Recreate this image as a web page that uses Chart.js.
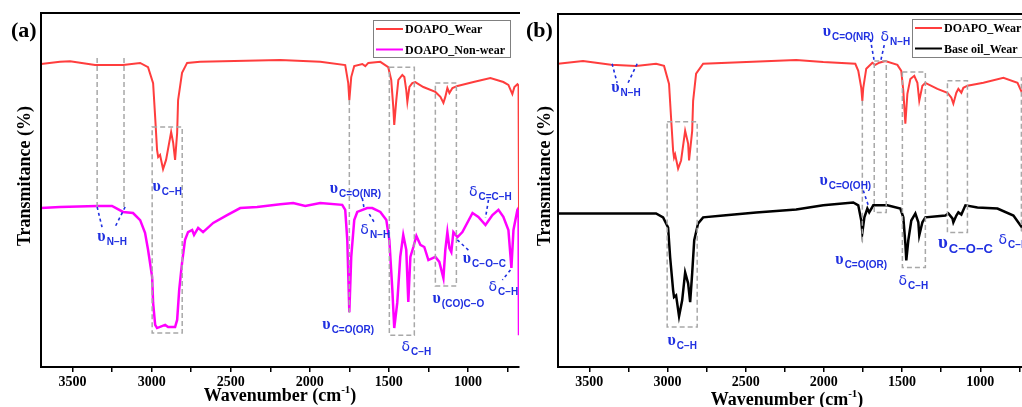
<!DOCTYPE html>
<html>
<head>
<meta charset="utf-8">
<script src="https://cdn.jsdelivr.net/npm/chart.js@4.4.1/dist/chart.umd.min.js"></script>
<style>
  html, body { margin: 0; padding: 0; background: #fff; overflow: hidden; }
  body { width: 1022px; height: 407px; position: relative; }
  #chartA { position: absolute; left: 0; top: 0; }
  #chartB { position: absolute; left: 520px; top: 0; }
</style>
</head>
<body>
<canvas id="chartA" width="520" height="407"></canvas>
<canvas id="chartB" width="540" height="407"></canvas>
<script>
// wavenumbers (cm-1) and transmittance (arbitrary %, offset per trace)
const wearA_wn = [3700,3580,3516,3358,3181,3073,3023,2991,2978,2966,2959,2947,2928,2909,2877,2864,2852,2839,2833,2808,2776,2694,2187,1934,1776,1757,1750,1738,1719,1668,1649,1630,1554,1504,1485,1472,1466,1453,1440,1415,1402,1390,1383,1370,1352,1333,1282,1206,1174,1155,1143,1130,1117,1098,1066,965,858,776,744,719,706,687,680,677];
const wearA_t  = [85.6,86.2,86.4,85.3,85.3,85.9,84.7,80.2,70.6,61.3,59.3,59.9,55.9,58.5,66.4,63.3,58.5,66.1,75.4,83.1,85.9,86.2,86.7,86.2,85.3,80.2,75.4,81.9,85.0,85.6,85.0,85.9,86.2,84.7,81.1,73.4,68.4,75.4,81.1,82.5,81.9,78.2,74.9,79.1,80.2,80.5,79.1,77.7,76.3,74.6,76.3,78.8,77.4,78.8,79.4,80.5,81.6,80.5,79.7,77.1,79.1,79.9,79.5,44.4];

const nonwearA_wn = [3700,3580,3346,3251,3181,3118,3073,3042,3023,2997,2991,2978,2966,2915,2896,2852,2839,2826,2808,2789,2770,2744,2732,2706,2675,2611,2523,2440,2333,2187,2105,2029,1934,1795,1776,1763,1750,1738,1719,1700,1637,1605,1554,1516,1497,1478,1466,1447,1428,1409,1390,1377,1364,1345,1326,1301,1276,1250,1206,1181,1155,1143,1130,1117,1105,1092,1066,1035,971,934,889,845,807,776,744,725,712,687,680,677];
const nonwearA_t  = [44.9,45.2,45.5,45.5,43.8,43.5,41.5,37.9,33.1,25.4,18.1,11.9,11.0,11.9,11.3,11.3,13.3,21.8,29.4,35.9,38.1,38.7,37.3,39.3,38.1,40.7,42.9,44.9,45.2,46.0,46.3,45.5,46.3,45.8,44.4,35.9,15.5,31.1,41.5,43.8,44.9,44.9,43.8,41.5,35.9,21.8,11.0,18.1,31.1,37.3,33.1,18.4,31.1,33.9,37.0,34.5,33.9,30.2,31.1,29.7,25.1,33.1,38.1,33.6,32.5,38.1,36.7,38.1,43.5,42.4,40.1,42.9,44.4,42.4,38.7,28.0,38.7,44.4,44.9,9.0];

const wearB_wn = [3700,3540,3361,3201,3073,3022,2990,2977,2964,2958,2951,2932,2913,2887,2868,2862,2842,2836,2817,2772,2177,2004,1799,1780,1761,1754,1748,1729,1690,1671,1646,1607,1530,1505,1492,1479,1466,1447,1422,1402,1390,1370,1351,1274,1210,1185,1172,1153,1140,1121,1108,1082,980,852,762,730,722];
const wearB_t  = [85.9,86.7,85.6,85.3,85.9,85.3,80.2,70.6,61.3,59.3,60.2,56.2,58.5,66.9,63.3,58.5,66.9,75.4,83.1,85.9,87.0,86.4,85.9,83.9,79.1,75.4,79.1,84.5,86.2,85.6,86.2,86.7,85.6,83.9,78.2,68.9,77.4,81.6,82.5,80.5,75.4,79.7,80.5,78.8,77.7,76.3,74.6,77.7,78.8,77.7,79.1,79.7,80.5,81.9,80.5,77.4,76.0];

const baseB_wn = [3700,3500,3284,3073,3028,2996,2983,2964,2958,2945,2926,2906,2887,2868,2855,2842,2829,2804,2772,2644,2433,2177,2004,1812,1780,1761,1754,1741,1722,1710,1684,1594,1511,1492,1479,1473,1460,1441,1415,1396,1390,1370,1351,1274,1223,1204,1178,1172,1153,1140,1121,1095,1018,890,788,730,722];
const baseB_t  = [43.5,43.5,43.5,43.5,42.4,39.5,31.1,21.8,19.8,20.3,14.4,18.9,26.8,23.7,18.4,26.6,35.9,40.7,42.4,42.9,43.8,44.6,45.8,46.6,45.8,41.5,38.1,42.4,44.9,43.8,45.8,45.8,44.9,42.4,35.0,30.2,35.9,41.5,43.5,41.0,37.3,41.0,42.4,42.7,42.9,43.5,42.1,41.0,42.9,43.8,43.2,45.8,45.2,44.9,42.9,39.3,37.5];

const tickMarks = [3500,3250,3000,2750,2500,2250,2000,1750,1500,1250,1000,750];
const tickLabels = ['3500','','3000','','2500','','2000','','1500','','1000',''];

// band annotations: [wn, tTop, tBottom] lines, [wnL, wnR, tTop, tBottom] boxes,
// [wn1, t1, wn2, t2] leaders, [symbol, subscript, wn, t, big] tags
const annoA = {
  vlines: [[3345, 87.3, 45.2], [3175, 87.3, 45.2], [1750, 75.4, 15.3]],
  boxes: [[2997, 2807, 67.8, 9.6], [1497, 1339, 84.7, 9.0], [1206, 1073, 80.2, 22.9]],
  leaders: [[3345,45.2,3314,39.5],[3168,45.2,3232,39.5],[1668,47.7,1655,44.4],[1624,43.2,1586,40.4],[1067,35.9,984,32.5],[731,27.4,782,24.6],[870,47.2,889,42.1]],
  tags: [['υ','C−H',2902,50.6],['υ','C=O(NR)',1712,50.0],['δ','N−H',1586,38.4],['υ','N−H',3250,36.4],['υ','C=O(OR)',1757,11.6],['δ','C−H',1326,5.4],['υ','(CO)C−O',1060,18.9],['υ','C−O−C',896,30.2],['δ','C−H',776,22.3],['δ','C=C−H',858,49.2]]
};
const annoB = {
  vlines: [[1754, 75.4, 35.3]],
  boxes: [[3002,2810,69.5,11.3],[1678,1601,86.7,43.8],[1498,1351,83.6,28.2],[1210,1082,81.1,38.1],[737,680,81.9,38.7]],
  leaders: [[3354,85.9,3322,80.5],[3194,85.9,3252,80.5],[1703,92.9,1678,86.7],[1614,91.2,1639,86.2],[1748,50.0,1716,45.8]],
  tags: [['υ','N−H',3265,78.8],['υ','C=O(NR)',1844,94.6],['δ','N−H',1543,93.2],['υ','C−H',2906,7.1],['υ','C=O(OH)',1863,52.3],['υ','C=O(OR)',1761,29.9],['δ','C−H',1428,24.0],['υ','C−O−C',1095,34.7,true],['δ','C−H',788,35.6]]
};

const BLUE = '#1f2fe0';
const SERIF = '"Liberation Serif", "Times New Roman", serif';

function pts(wn, t) {
  return wn.map((x, i) => ({ x: x, y: t[i] }));
}

function drawTag(ctx, xs, ys, tag) {
  const [sym, sub, wn, t, big] = tag;
  const x = xs.getPixelForValue(wn), y = ys.getPixelForValue(t);
  const symFont = sym === 'υ' ? `bold ${big ? 19 : 16}px ${SERIF}` : `${big ? 17 : 14}px "DejaVu Sans"`;
  const subFont = `bold ${big ? 13 : 10}px "Liberation Sans", Arial, sans-serif`;
  ctx.font = symFont;
  const w1 = ctx.measureText(sym).width;
  ctx.font = subFont;
  const w2 = ctx.measureText(sub).width;
  const x0 = x - (w1 + w2 + 1) / 2;
  ctx.fillStyle = BLUE;
  ctx.textAlign = 'left';
  ctx.textBaseline = 'alphabetic';
  ctx.font = symFont;
  ctx.fillText(sym, x0, y + 3);
  ctx.font = subFont;
  ctx.fillText(sub, x0 + w1 + 1, y + (big ? 8 : 7));
}

function makeDecor(opt) {
  return {
    id: 'decor',
    afterDatasetsDraw(chart) {
      const ctx = chart.ctx, xs = chart.scales.x, ys = chart.scales.y, a = chart.chartArea;
      const an = opt.anno;
      ctx.save();
      // gray dashed band boxes
      ctx.strokeStyle = '#a8a8a8';
      ctx.lineWidth = 1.5;
      ctx.setLineDash([5, 3]);
      an.vlines.forEach(v => {
        const x = xs.getPixelForValue(v[0]);
        ctx.beginPath();
        ctx.moveTo(x, ys.getPixelForValue(v[1]));
        ctx.lineTo(x, ys.getPixelForValue(v[2]));
        ctx.stroke();
      });
      an.boxes.forEach(b => {
        const x1 = xs.getPixelForValue(b[0]), x2 = xs.getPixelForValue(b[1]);
        const y1 = ys.getPixelForValue(b[2]), y2 = ys.getPixelForValue(b[3]);
        ctx.strokeRect(x1, y1, x2 - x1, y2 - y1);
      });
      // blue leaders
      ctx.strokeStyle = BLUE;
      ctx.lineWidth = 1.6;
      ctx.setLineDash([3, 3]);
      an.leaders.forEach(l => {
        ctx.beginPath();
        ctx.moveTo(xs.getPixelForValue(l[0]), ys.getPixelForValue(l[1]));
        ctx.lineTo(xs.getPixelForValue(l[2]), ys.getPixelForValue(l[3]));
        ctx.stroke();
      });
      ctx.setLineDash([]);
      an.tags.forEach(t => drawTag(ctx, xs, ys, t));

      // frame: left and top
      ctx.strokeStyle = '#000';
      ctx.lineWidth = 2;
      ctx.beginPath();
      ctx.moveTo(a.left, a.bottom);
      ctx.lineTo(a.left, a.top);
      ctx.lineTo(a.right + 30, a.top);
      ctx.stroke();

      // legend
      const lg = opt.legend;
      ctx.fillStyle = '#fff';
      ctx.fillRect(lg.x, lg.y, lg.w, lg.h);
      ctx.strokeStyle = '#808080';
      ctx.lineWidth = 1;
      ctx.strokeRect(lg.x + 0.5, lg.y + 0.5, lg.w, lg.h);
      ctx.font = `bold 12px ${SERIF}`;
      ctx.textBaseline = 'middle';
      ctx.textAlign = 'left';
      chart.data.datasets.forEach((ds, i) => {
        const yy = lg.y + 9 + i * 20.5;
        ctx.strokeStyle = ds.borderColor;
        ctx.lineWidth = 2;
        ctx.beginPath();
        ctx.moveTo(lg.x + 3, yy);
        ctx.lineTo(lg.x + 30, yy);
        ctx.stroke();
        ctx.fillStyle = '#000';
        ctx.fillText(ds.label, lg.x + 32, yy + 1);
      });

      // panel letter
      ctx.font = `bold 22px ${SERIF}`;
      ctx.textBaseline = 'alphabetic';
      ctx.fillText(opt.letter, opt.letterX, 37);

      // axis titles
      ctx.font = `bold 18px ${SERIF}`;
      const t1 = 'Wavenumber (cm', t2 = '-1', t3 = ')';
      const w1 = ctx.measureText(t1).width, w3 = ctx.measureText(t3).width;
      ctx.font = `bold 11px ${SERIF}`;
      const w2 = ctx.measureText(t2).width;
      let x0 = opt.xTitle[0] - (w1 + w2 + w3) / 2;
      const by = opt.xTitle[1];
      ctx.font = `bold 18px ${SERIF}`;
      ctx.fillText(t1, x0, by);
      ctx.font = `bold 11px ${SERIF}`;
      ctx.fillText(t2, x0 + w1, by - 8);
      ctx.font = `bold 18px ${SERIF}`;
      ctx.fillText(t3, x0 + w1 + w2, by);

      ctx.translate(opt.yTitle[0], opt.yTitle[1]);
      ctx.rotate(-Math.PI / 2);
      ctx.textAlign = 'center';
      ctx.textBaseline = 'middle';
      ctx.fillText('Transmitance (%)', 0, 0);
      ctx.restore();
    }
  };
}

function makeChart(id, datasets, xMin, padding, decor) {
  return new Chart(document.getElementById(id), {
    type: 'line',
    data: { datasets: datasets },
    options: {
      responsive: false,
      animation: false,
      layout: { padding: padding },
      plugins: { legend: { display: false }, tooltip: { enabled: false } },
      elements: { point: { radius: 0 }, line: { tension: 0 } },
      scales: {
        x: {
          type: 'linear',
          reverse: true,
          min: xMin,
          max: 3700,
          afterBuildTicks: axis => { axis.ticks = tickMarks.map(v => ({ value: v })); },
          afterFit: axis => { axis.height = 40; },
          ticks: {
            autoSkip: false,
            maxRotation: 0,
            padding: 2,
            color: '#000',
            font: { family: SERIF, size: 14, weight: 'bold' },
            callback: (v, i) => tickLabels[i]
          },
          grid: { display: true, drawOnChartArea: false, drawTicks: true, tickLength: 5, color: '#000', lineWidth: 1.5 },
          border: { display: true, color: '#000', width: 2 }
        },
        y: { display: false, min: 0, max: 100 }
      }
    },
    plugins: [makeDecor(decor)]
  });
}

makeChart('chartA', [
  { label: 'DOAPO_Wear', data: pts(wearA_wn, wearA_t), borderColor: '#ff3d3d', borderWidth: 2, fill: false },
  { label: 'DOAPO_Non-wear', data: pts(nonwearA_wn, nonwearA_t), borderColor: '#ff00ff', borderWidth: 2.5, fill: false }
], 677, { left: 41, top: 13, right: 1, bottom: 0 }, {
  anno: annoA,
  legend: { x: 373, y: 20, w: 137, h: 37 },
  letter: '(a)', letterX: 11,
  xTitle: [280, 401],
  yTitle: [25, 176]
});

makeChart('chartB', [
  { label: 'DOAPO_Wear', data: pts(wearB_wn, wearB_t), borderColor: '#ff3d3d', borderWidth: 2, fill: false },
  { label: 'Base oil_Wear', data: pts(baseB_wn, baseB_t), borderColor: '#000000', borderWidth: 2.5, fill: false }
], 650, { left: 38, top: 14, right: 25, bottom: 0 }, {
  anno: annoB,
  legend: { x: 392, y: 19, w: 150, h: 38 },
  letter: '(b)', letterX: 6,
  xTitle: [267, 405],
  yTitle: [25, 176]
});
</script>
</body>
</html>
